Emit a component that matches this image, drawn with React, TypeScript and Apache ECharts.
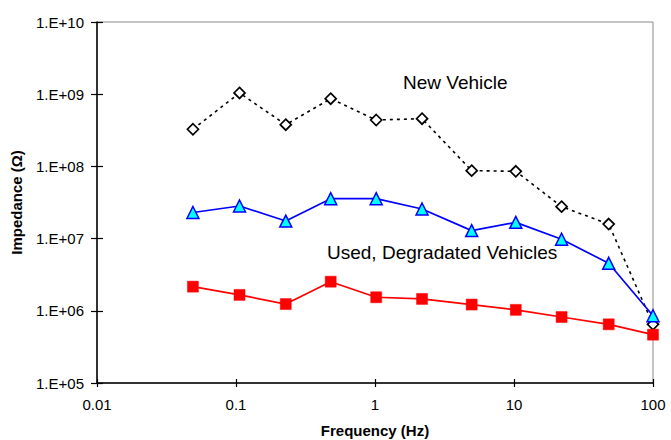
import React, { useEffect, useRef } from "react";
import * as echarts from "echarts";

const frequencies = [0.049, 0.106, 0.228, 0.48, 1.02, 2.18, 4.96, 10.3, 22, 48, 100];
const newVehicle = [3.27e8, 1.04e9, 3.78e8, 8.67e8, 4.39e8, 4.58e8, 8.73e7, 8.55e7, 2.77e7, 1.59e7, 6.5e5];
const usedBlue = [2.3e7, 2.83e7, 1.75e7, 3.57e7, 3.57e7, 2.57e7, 1.29e7, 1.68e7, 9.8e6, 4.55e6, 8.55e5];
const usedRed = [2.16e6, 1.66e6, 1.24e6, 2.53e6, 1.54e6, 1.46e6, 1.22e6, 1.03e6, 8.2e5, 6.5e5, 4.67e5];
const xTickLabels = ["0.01", "0.1", "1", "10", "100"];
const yTickLabels = ["1.E+05", "1.E+06", "1.E+07", "1.E+08", "1.E+09", "1.E+10"];

const FONT = "Liberation Sans, Arial, sans-serif";

const pairs = (ys: number[]) => frequencies.map((f, i) => [f, ys[i]]);

export default function App() {
  const ref = useRef<HTMLDivElement>(null);
  useEffect(() => {
    if (!ref.current) return;
    const chart = echarts.init(ref.current, null, { renderer: "svg" });
    const xLabel = (v: number) => {
      const e = Math.round(Math.log10(v));
      return xTickLabels[e + 2] ?? "";
    };
    const yLabel = (v: number) => {
      const e = Math.round(Math.log10(v));
      return yTickLabels[e - 5] ?? "";
    };
    const baseX = {
      type: "log" as const,
      logBase: 10,
      min: 0.01,
      max: 100,
      splitNumber: 4,
      splitLine: { show: false },
      minorTick: { show: false },
    };
    const baseY = {
      type: "log" as const,
      logBase: 10,
      min: 1e5,
      max: 1e10,
      splitNumber: 5,
      splitLine: { show: false },
      minorTick: { show: false },
    };
    chart.setOption({
      animation: false,
      backgroundColor: "#ffffff",
      textStyle: { fontFamily: FONT },
      grid: {
        left: 97,
        top: 22,
        right: 18,
        bottom: 57,
        outerBoundsMode: "none",
        containLabel: false,
        show: true,
        borderColor: "#8a8a8a",
        borderWidth: 1,
      },
      xAxis: [
        {
          ...baseX,
          position: "bottom",
          name: "Frequency (Hz)",
          nameLocation: "middle",
          nameGap: 40,
          nameTextStyle: { fontSize: 15, fontWeight: "bold", color: "#000", fontFamily: FONT },
          axisLine: { show: true, lineStyle: { color: "#000", width: 1.5 } },
          axisTick: { show: true, inside: false, length: 4, lineStyle: { color: "#000", width: 1.2 } },
          axisLabel: { formatter: xLabel, fontSize: 15, color: "#000", margin: 14, fontFamily: FONT },
        },
        {
          ...baseX,
          position: "bottom",
          offset: 0,
          axisLine: { show: false },
          axisTick: { show: true, inside: true, length: 4, lineStyle: { color: "#000", width: 1.2 } },
          axisLabel: { show: false },
        },
      ],
      yAxis: [
        {
          ...baseY,
          position: "left",
          name: "Impedance (Ω)",
          nameLocation: "middle",
          nameGap: 73,
          nameTextStyle: { fontSize: 15, fontWeight: "bold", color: "#000", fontFamily: FONT },
          axisLine: { show: true, lineStyle: { color: "#000", width: 1.5 } },
          axisTick: { show: true, inside: false, length: 6, lineStyle: { color: "#000", width: 1.2 } },
          axisLabel: { formatter: yLabel, fontSize: 15, color: "#000", margin: 13, fontFamily: FONT },
        },
        {
          ...baseY,
          position: "left",
          offset: 0,
          axisLine: { show: false },
          axisTick: { show: true, inside: true, length: 6, lineStyle: { color: "#000", width: 1.2 } },
          axisLabel: { show: false },
        },
      ],
      series: [
        {
          name: "New Vehicle",
          type: "line",
          xAxisIndex: 0,
          yAxisIndex: 0,
          data: pairs(newVehicle),
          symbol: "diamond",
          symbolSize: 11,
          lineStyle: { color: "#000", width: 1.6, type: [3, 4] },
          itemStyle: { color: "#ffffff", borderColor: "#000", borderWidth: 1.7 },
          z: 2,
        },
        {
          name: "Used red",
          type: "line",
          xAxisIndex: 0,
          yAxisIndex: 0,
          data: pairs(usedRed),
          symbol: "rect",
          symbolSize: 11,
          lineStyle: { color: "#ff0000", width: 1.7 },
          itemStyle: { color: "#ff0000", borderColor: "#ff0000", borderWidth: 0.5 },
          z: 3,
        },
        {
          name: "Used blue",
          type: "line",
          xAxisIndex: 0,
          yAxisIndex: 0,
          data: pairs(usedBlue),
          symbol: "triangle",
          symbolSize: 12,
          lineStyle: { color: "#0000ff", width: 1.7 },
          itemStyle: { color: "#00ffff", borderColor: "#0000ff", borderWidth: 1.5 },
          z: 4,
        },
      ],
      graphic: [
        {
          type: "text",
          left: 403,
          top: 73,
          style: { text: "New Vehicle", fontSize: 19, fill: "#000", fontFamily: FONT },
        },
        {
          type: "text",
          left: 327,
          top: 243,
          style: { text: "Used, Degradated Vehicles", fontSize: 19, fill: "#000", fontFamily: FONT },
        },
      ],
    });
    return () => chart.dispose();
  }, []);
  return (
    <div
      ref={ref}
      style={{ position: "fixed", left: 0, top: 0, width: 671, height: 440 }}
    />
  );
}
